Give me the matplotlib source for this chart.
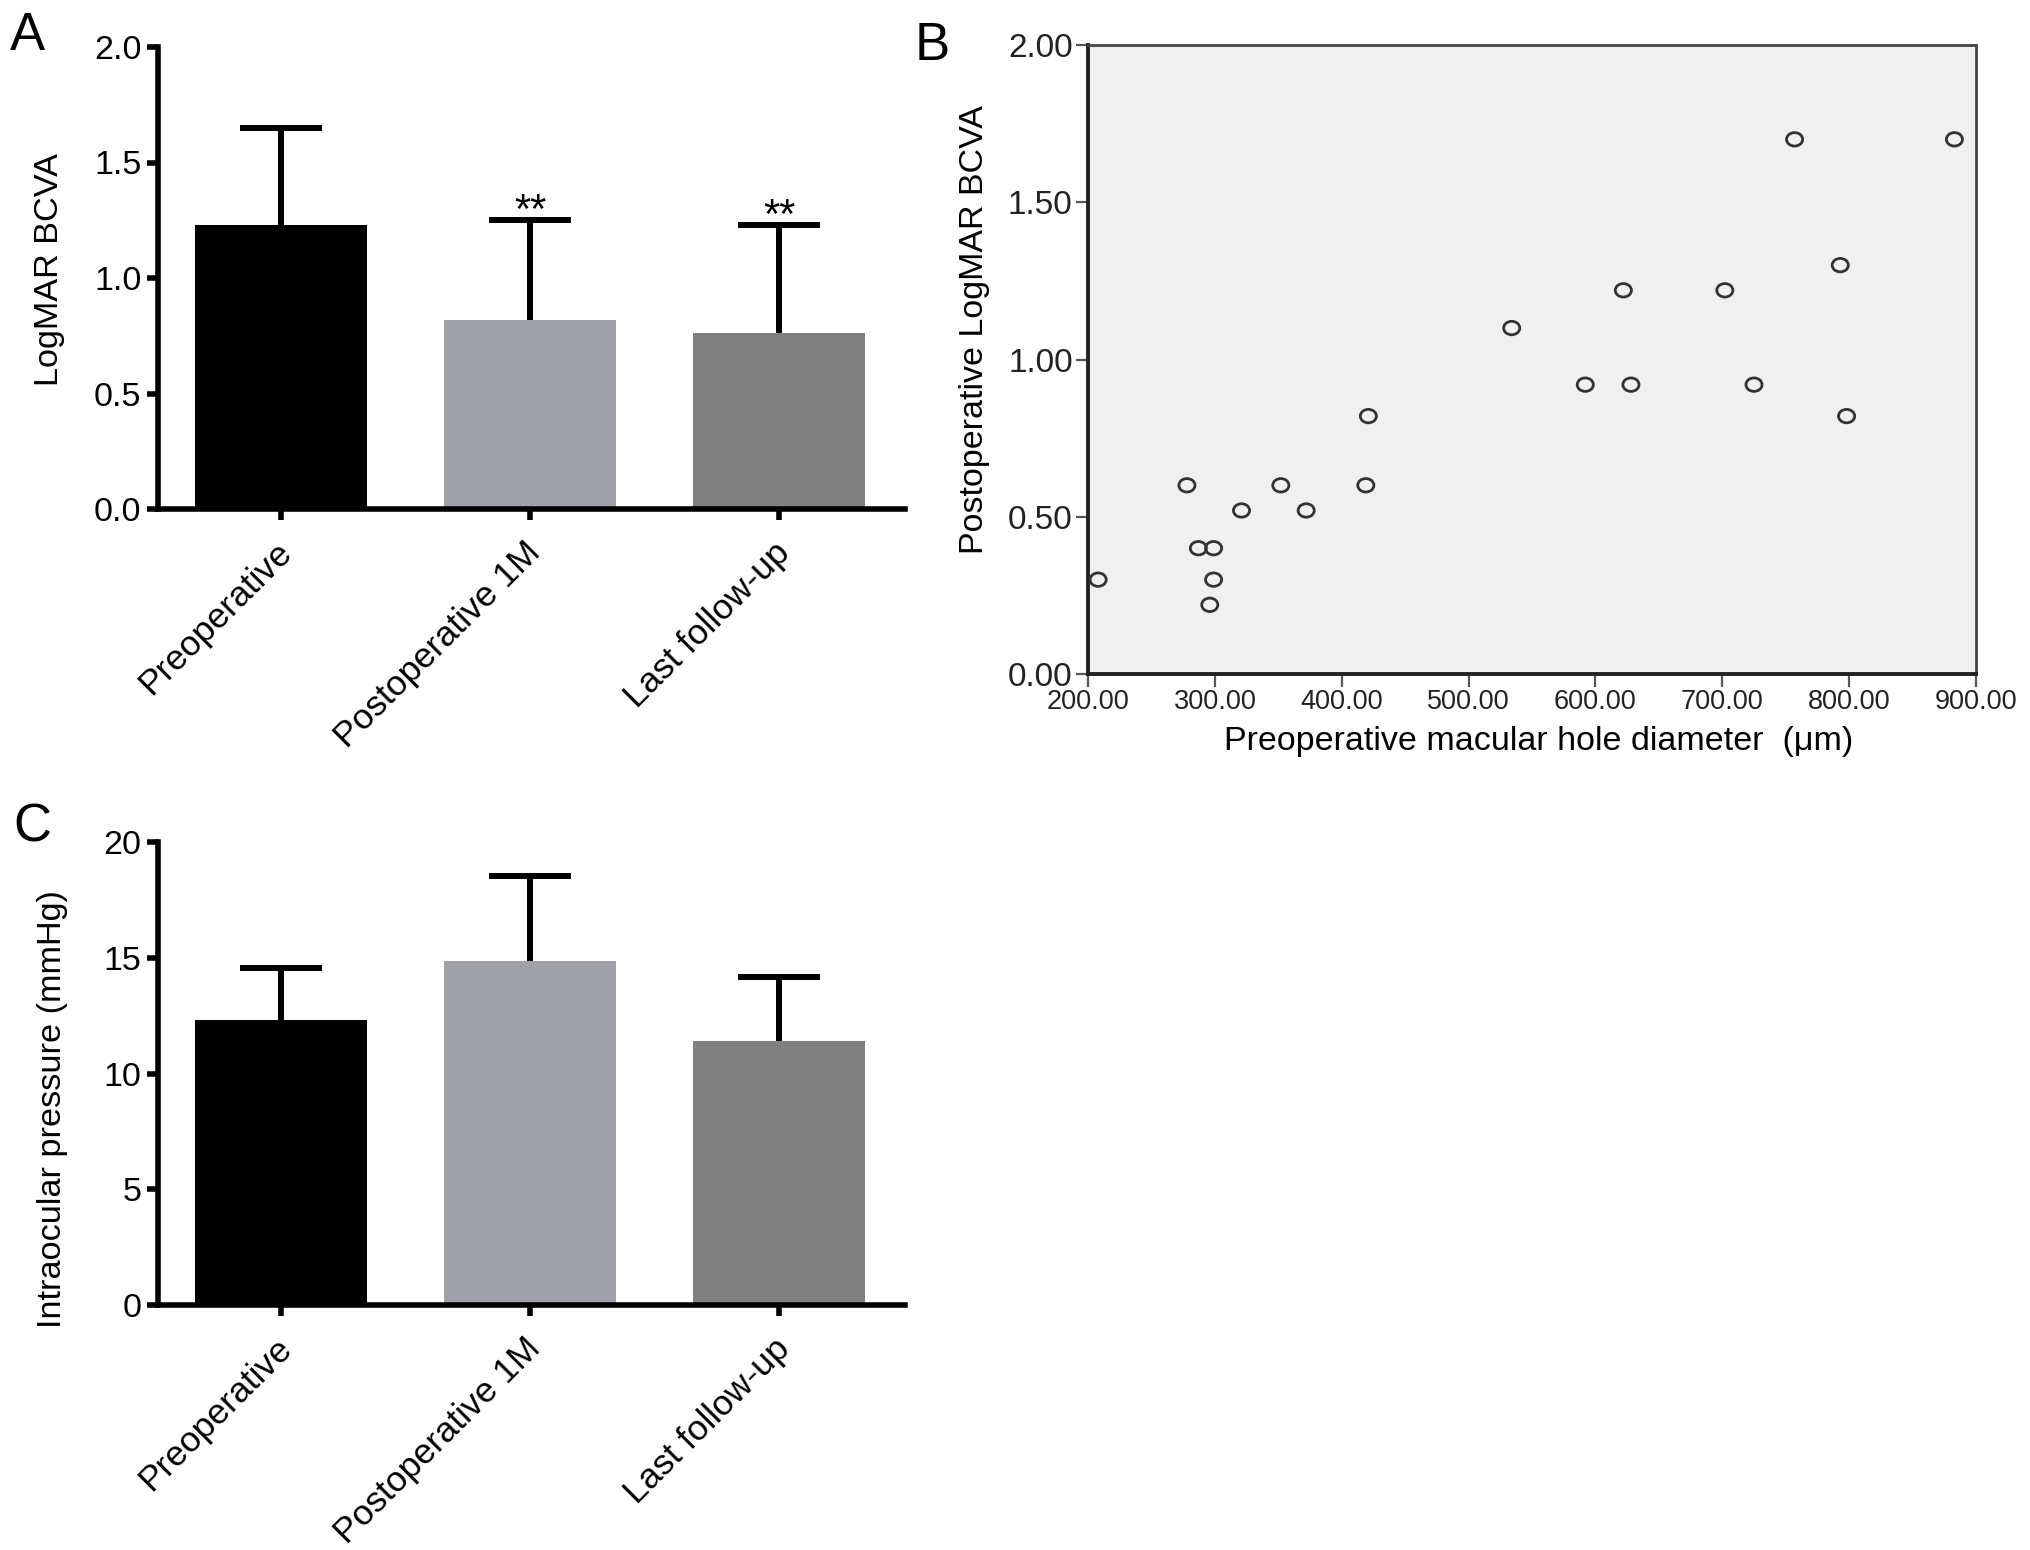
import matplotlib
matplotlib.use("Agg")
import matplotlib.pyplot as plt
import matplotlib.transforms as mtransforms
from matplotlib.path import Path
import numpy as np

plt.rcParams['font.family'] = ['Liberation Sans', 'DejaVu Sans']

# ---- data ----
categories = ["Preoperative", "Postoperative 1M", "Last follow-up"]
bcva_mean = [1.23, 0.82, 0.76]
bcva_sd = [0.42, 0.43, 0.47]
bcva_sig = ["", "**", "**"]

iop_mean = [12.3, 14.85, 11.4]
iop_sd = [2.25, 3.67, 2.75]

hole_diameter = [208, 278, 287, 299, 299, 296, 321, 352, 372, 419, 421,
                 534, 592, 622, 628, 702, 725, 757, 793, 798, 883]
post_bcva = [0.30, 0.60, 0.40, 0.40, 0.30, 0.22, 0.52, 0.60, 0.52, 0.60, 0.82,
             1.10, 0.92, 1.22, 0.92, 1.22, 0.92, 1.70, 1.30, 0.82, 1.70]

bar_colors = ["#000000", "#A0A0A8", "#808080"]

W, H = 2031, 1550
fig = plt.figure(figsize=(W / 100, H / 100), dpi=100)


def fx(px):
    return px / W


def fy(py):
    return 1 - py / H


def bar_panel(ax, means, sds, yticks, ylabel, sig=None):
    x = np.arange(len(means))
    ax.bar(x, means, width=0.69, color=bar_colors, zorder=2)
    _, caps, _ = ax.errorbar(x, means, yerr=[np.zeros(len(sds)), sds], fmt='none',
                             ecolor='black', elinewidth=4.3, capsize=29.5,
                             capthick=4.3, zorder=1)
    caps[0].set_visible(False)
    if sig:
        for xi, m, s, t in zip(x, means, sds, sig):
            if t:
                ax.text(xi, m + s - 0.006 * yticks[-1], t, ha='center',
                        va='baseline', fontsize=30)
    ax.set_xlim(-0.494, 2.506)
    ax.set_ylim(0, yticks[-1])
    ax.set_yticks(yticks)
    ax.set_xticks(x)
    for s in ['top', 'right']:
        ax.spines[s].set_visible(False)
    for s in ['left', 'bottom']:
        ax.spines[s].set_linewidth(4.0)
    ax.tick_params(axis='both', width=4.0, length=8, labelsize=24.5, pad=4)
    ax.tick_params(axis='x', labelsize=25.5)
    ax.set_xticklabels(categories, rotation=45, ha='right', rotation_mode='anchor',
                       fontsize=25.5)
    off = mtransforms.ScaledTranslation(-0.06, -0.10, fig.dpi_scale_trans)
    for lab in ax.get_xticklabels():
        lab.set_transform(lab.get_transform() + off)
    ax.set_ylabel(ylabel, fontsize=24.7)


# Panel A
axA = fig.add_axes([fx(158), fy(509), fx(905 - 158), (509 - 47) / H])
bar_panel(axA, bcva_mean, bcva_sd, [0.0, 0.5, 1.0, 1.5, 2.0], "LogMAR BCVA", bcva_sig)
axA.set_yticklabels(["0.0", "0.5", "1.0", "1.5", "2.0"])
axA.yaxis.set_label_coords(-0.125, 0.519)

# Panel C
axC = fig.add_axes([fx(158), fy(1305), fx(905 - 158), (1305 - 842) / H])
bar_panel(axC, iop_mean, iop_sd, [0, 5, 10, 15, 20], "Intraocular pressure (mmHg)")
axC.yaxis.set_label_coords(-0.120, 0.423)

# Panel B
ellipse = Path.unit_circle().transformed(mtransforms.Affine2D().scale(1.2, 1.0))
axB = fig.add_axes([fx(1088), fy(674), fx(1976 - 1088), (674 - 45) / H])
axB.set_facecolor("#F0F0F0")
axB.scatter(hole_diameter, post_bcva, s=135, marker=ellipse, facecolors='none',
            edgecolors='#333333', linewidths=2.0, zorder=3)
axB.set_xlim(200, 900)
axB.set_ylim(0, 2)
xt = [200, 300, 400, 500, 600, 700, 800, 900]
yt = [0.0, 0.5, 1.0, 1.5, 2.0]
axB.set_xticks(xt)
axB.set_xticklabels([f"{v:.2f}" for v in xt], fontsize=19.5, color='#222222')
axB.set_yticks(yt)
axB.set_yticklabels([f"{v:.2f}" for v in yt], fontsize=24, color='#222222')
for s in ['left', 'bottom']:
    axB.spines[s].set_linewidth(2.8)
    axB.spines[s].set_color('#222222')
for s in ['top', 'right']:
    axB.spines[s].set_linewidth(2.0)
    axB.spines[s].set_color('#444444')
axB.tick_params(axis='both', width=1.6, length=9, color='#555555', pad=2)
axB.set_ylabel("Postoperative LogMAR BCVA", fontsize=24.5)
axB.set_xlabel("Preoperative macular hole diameter  (μm)", fontsize=24.5)
axB.yaxis.set_label_coords(-0.110, 0.547)
axB.xaxis.set_label_coords(0.507, -0.083)

# Panel letters
fig.text(fx(10), fy(11), "A", fontsize=38, ha='left', va='top')
fig.text(fx(915), fy(21), "B", fontsize=38, ha='left', va='top')
fig.text(fx(13), fy(803), "C", fontsize=38, ha='left', va='top')

fig.savefig("out.png", dpi=100, facecolor='white')
